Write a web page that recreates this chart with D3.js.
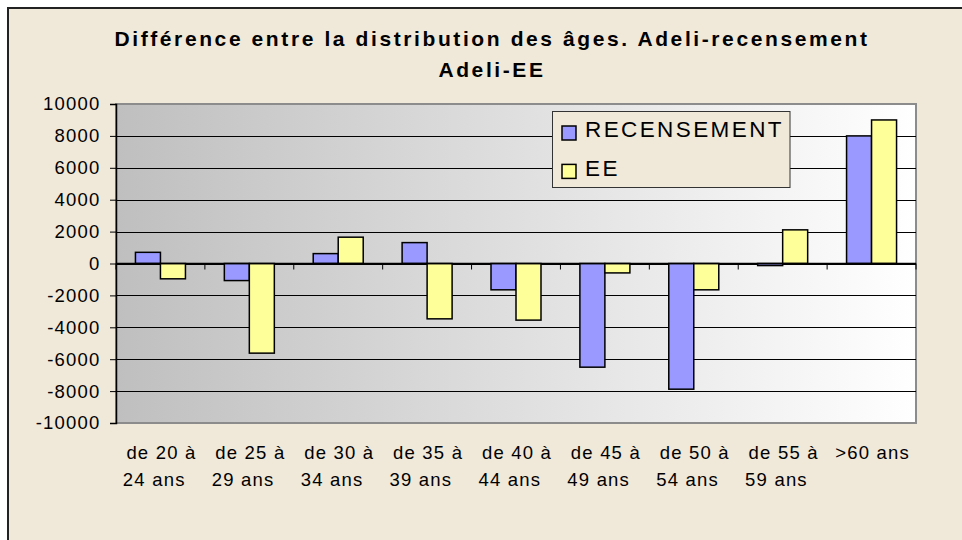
<!DOCTYPE html>
<html>
<head>
<meta charset="utf-8">
<script src="https://cdn.jsdelivr.net/npm/d3@7"></script>
<style>
  html, body { margin: 0; padding: 0; background: #ffffff; }
  svg { display: block; }
  text { font-family: Arial, "Liberation Sans", sans-serif; fill: #000; }
</style>
</head>
<body>
<svg id="chart" width="962" height="540"></svg>
<script>
// ---- data ----
const categories = [
  "de 20 à|24 ans", "de 25 à|29 ans", "de 30 à|34 ans", "de 35 à|39 ans",
  "de 40 à|44 ans", "de 45 à|49 ans", "de 50 à|54 ans", "de 55 à|59 ans", ">60 ans"
];
const seriesNames = ["RECENSEMENT", "EE"];
const recensement = [700, -1070, 620, 1310, -1650, -6500, -7880, -130, 8000];
const ee = [-960, -5620, 1650, -3470, -3550, -590, -1650, 2110, 9000];
const yTicks = [10000, 8000, 6000, 4000, 2000, 0, -2000, -4000, -6000, -8000, -10000];
const titleLines = ["Différence entre la distribution des âges. Adeli-recensement", "Adeli-EE"];
const colors = ["#9999ff", "#ffff99"];

// ---- layout ----
const svg = d3.select("#chart");
const plot = { left: 116, right: 916, top: 104, bottom: 423 };
const bg = "#f0e8d9";

// chart area
svg.append("rect").attr("x", 8).attr("y", 8).attr("width", 1000).attr("height", 600)
  .attr("fill", bg).attr("stroke", "#222").attr("stroke-width", 2);

// gradient
const defs = svg.append("defs");
const grad = defs.append("linearGradient").attr("id", "pg")
  .attr("x1", "0%").attr("x2", "100%").attr("y1", "0%").attr("y2", "0%");
grad.append("stop").attr("offset", "0%").attr("stop-color", "#bfbfbf");
grad.append("stop").attr("offset", "100%").attr("stop-color", "#ffffff");

svg.append("rect").attr("x", plot.left).attr("y", plot.top)
  .attr("width", plot.right - plot.left).attr("height", plot.bottom - plot.top)
  .attr("fill", "url(#pg)").attr("stroke", "#8c8c8c").attr("stroke-width", 2);

// scales
const rows = categories.map((c, i) => ({ cat: c, vals: [recensement[i], ee[i]] }));
const x0 = d3.scaleBand().domain(categories).range([plot.left, plot.right])
  .paddingInner(0.4375).paddingOuter(0.21875);
const x1 = d3.scaleBand().domain(seriesNames).range([0, x0.bandwidth()]);
const y = d3.scaleLinear().domain([-10000, 10000]).range([plot.bottom, plot.top]);

// gridlines
svg.append("g").selectAll("line").data(yTicks.filter(t => t !== 10000 && t !== -10000))
  .join("line")
  .attr("x1", plot.left).attr("x2", plot.right)
  .attr("y1", d => Math.round(y(d)) + 0.5).attr("y2", d => Math.round(y(d)) + 0.5)
  .attr("stroke", "#000").attr("stroke-width", 1);

// bars
const groups = svg.append("g").selectAll("g").data(rows).join("g")
  .attr("transform", d => `translate(${x0(d.cat)},0)`);
groups.selectAll("rect").data(d => d.vals.map((v, i) => ({ key: seriesNames[i], v, i })))
  .join("rect")
  .attr("x", d => x1(d.key))
  .attr("width", x1.bandwidth())
  .attr("y", d => Math.min(y(d.v), y(0)))
  .attr("height", d => Math.max(1, Math.abs(y(d.v) - y(0))))
  .attr("fill", d => colors[d.i])
  .attr("stroke", "#000").attr("stroke-width", 1.5);

// x axis at zero
const step = x0.step();
const bounds = d3.range(categories.length + 1).map(i => plot.left + i * step);
const xa = svg.append("g");
xa.append("line").attr("x1", plot.left).attr("x2", plot.right)
  .attr("y1", y(0)).attr("y2", y(0)).attr("stroke", "#000").attr("stroke-width", 1.5);
xa.selectAll("line.t").data(bounds).join("line").attr("class", "t")
  .attr("x1", d => d).attr("x2", d => d)
  .attr("y1", y(0)).attr("y2", y(0) + 6).attr("stroke", "#000").attr("stroke-width", 1);

// y axis
const yAxis = d3.axisLeft(y).tickValues(yTicks).tickSize(6).tickPadding(10)
  .tickFormat(d => String(d));
const ya = svg.append("g").attr("transform", `translate(${plot.left},0)`).call(yAxis);
ya.select(".domain").attr("stroke", "#000").attr("stroke-width", 1.5);
ya.selectAll(".tick line").attr("stroke", "#000");
ya.selectAll(".tick text")
  .style("font-family", "Arial, 'Liberation Sans', sans-serif")
  .style("font-size", "18.5px").style("letter-spacing", "1.2px")
  .attr("fill", "#000").attr("x", -15.5);

// x labels
const lab = svg.append("g").selectAll("text").data(categories).join("text")
  .attr("text-anchor", "middle")
  .style("font-size", "18.5px").style("letter-spacing", "1.2px");
lab.each(function(d) {
  const cx = x0(d) + x0.bandwidth() / 2;
  const parts = d.split("|");
  const t = d3.select(this);
  parts.forEach((p, i) => {
    t.append("tspan").attr("x", cx + (i === 0 ? 1 : -6.2)).attr("y", 459 + i * 26.7).text(p);
  });
});

// title
svg.append("g").selectAll("text").data(titleLines).join("text")
  .attr("x", 492).attr("y", (d, i) => 45.7 + i * 31.6)
  .attr("text-anchor", "middle")
  .style("font-size", "21px").style("font-weight", "bold").style("letter-spacing", "2.6px")
  .text(d => d);

// legend
const lg = svg.append("g");
lg.append("rect").attr("x", 552.5).attr("y", 111.5).attr("width", 237.5).attr("height", 76)
  .attr("fill", bg).attr("stroke", "#333").attr("stroke-width", 1);
const li = lg.selectAll("g").data(seriesNames).join("g")
  .attr("transform", (d, i) => `translate(0,${i * 38.4})`);
li.append("rect").attr("x", 562).attr("y", 126).attr("width", 14).attr("height", 14)
  .attr("fill", (d, i) => colors[i]).attr("stroke", "#000").attr("stroke-width", 1.5);
li.append("text").attr("x", 585).attr("y", 137.3)
  .style("font-size", "22.5px").style("letter-spacing", "2.4px")
  .text(d => d);
</script>
</body>
</html>
